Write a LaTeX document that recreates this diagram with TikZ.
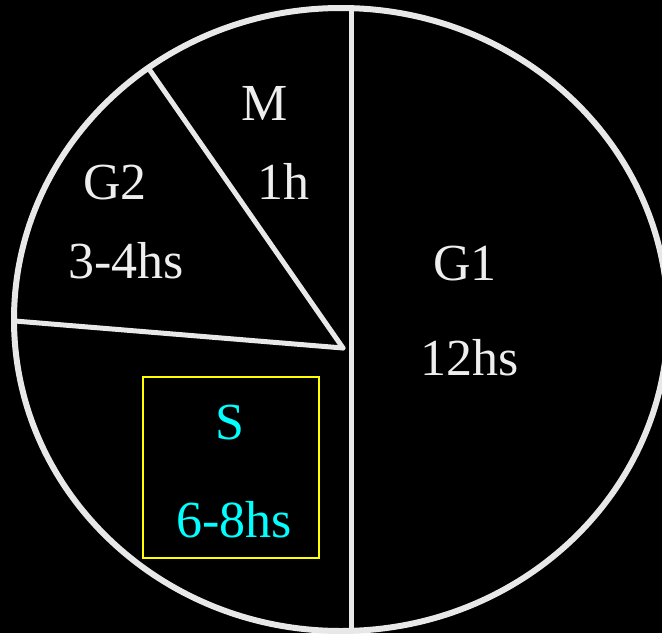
\documentclass[tikz,border=0pt]{standalone}
\usepackage{fontspec}
\setmainfont{Liberation Serif}
\usetikzlibrary{positioning}

\definecolor{rimgrey}{HTML}{E8E8E8}
\definecolor{labelgrey}{HTML}{EEEEEE}
\definecolor{phasecyan}{HTML}{00FFFF}
\definecolor{boxyellow}{HTML}{FFFF00}

\begin{document}
\begin{tikzpicture}[
  x=1pt, y=-1pt,
  rim/.style={draw=rimgrey, line width=6pt},
  spoke/.style={draw=rimgrey, line width=5pt},
  lbl/.style={text=labelgrey, font=\fontsize{52}{62}\selectfont, inner sep=0pt, anchor=base},
  slbl/.style={lbl, text=phasecyan},
  sbox/.style={draw=boxyellow, line width=2.5pt, minimum width=176pt, minimum height=181pt, inner sep=0pt}
]
% Black page, same size as the reference (pixel units, y down)
\fill[black] (0,0) rectangle (662,633);
\useasboundingbox (0,0) rectangle (662,633);
\clip (0,0) rectangle (662,633);

% Where the spokes meet, and where they hit the rim
\coordinate (hub) at (343,348);
\coordinate (rimMG) at (149,69);
\coordinate (rimGS) at (15,321);
\coordinate (rimTop) at (351,8);
\coordinate (rimBot) at (351,631);

% The cycle
\draw[rim] (341,319.5) ellipse [x radius=327, y radius=311.5];

% Phase boundaries
\draw[spoke] (rimTop) -- (rimBot);
\draw[spoke, line cap=round] (rimMG) -- (hub);
\draw[spoke, line cap=round] (rimGS) -- (hub);

% Labels
\node[lbl] (m) at (265,120) {M};
\node[lbl] (mt) at (283,199) {1h};
\node[lbl] (gtwo) at (115,199) {G2};
\node[lbl] (gtwot) at (126,278) {3-4hs};
\node[lbl] (gone) at (465,280) {G1};
\node[lbl] (gonet) at (470,375) {12hs};

% S phase, boxed
\node[sbox] (sframe) at (231,467.5) {};
\node[slbl] (s) at (230,439) {S};
\node[slbl] (st) at (234,537) {6-8hs};

\end{tikzpicture}
\end{document}
